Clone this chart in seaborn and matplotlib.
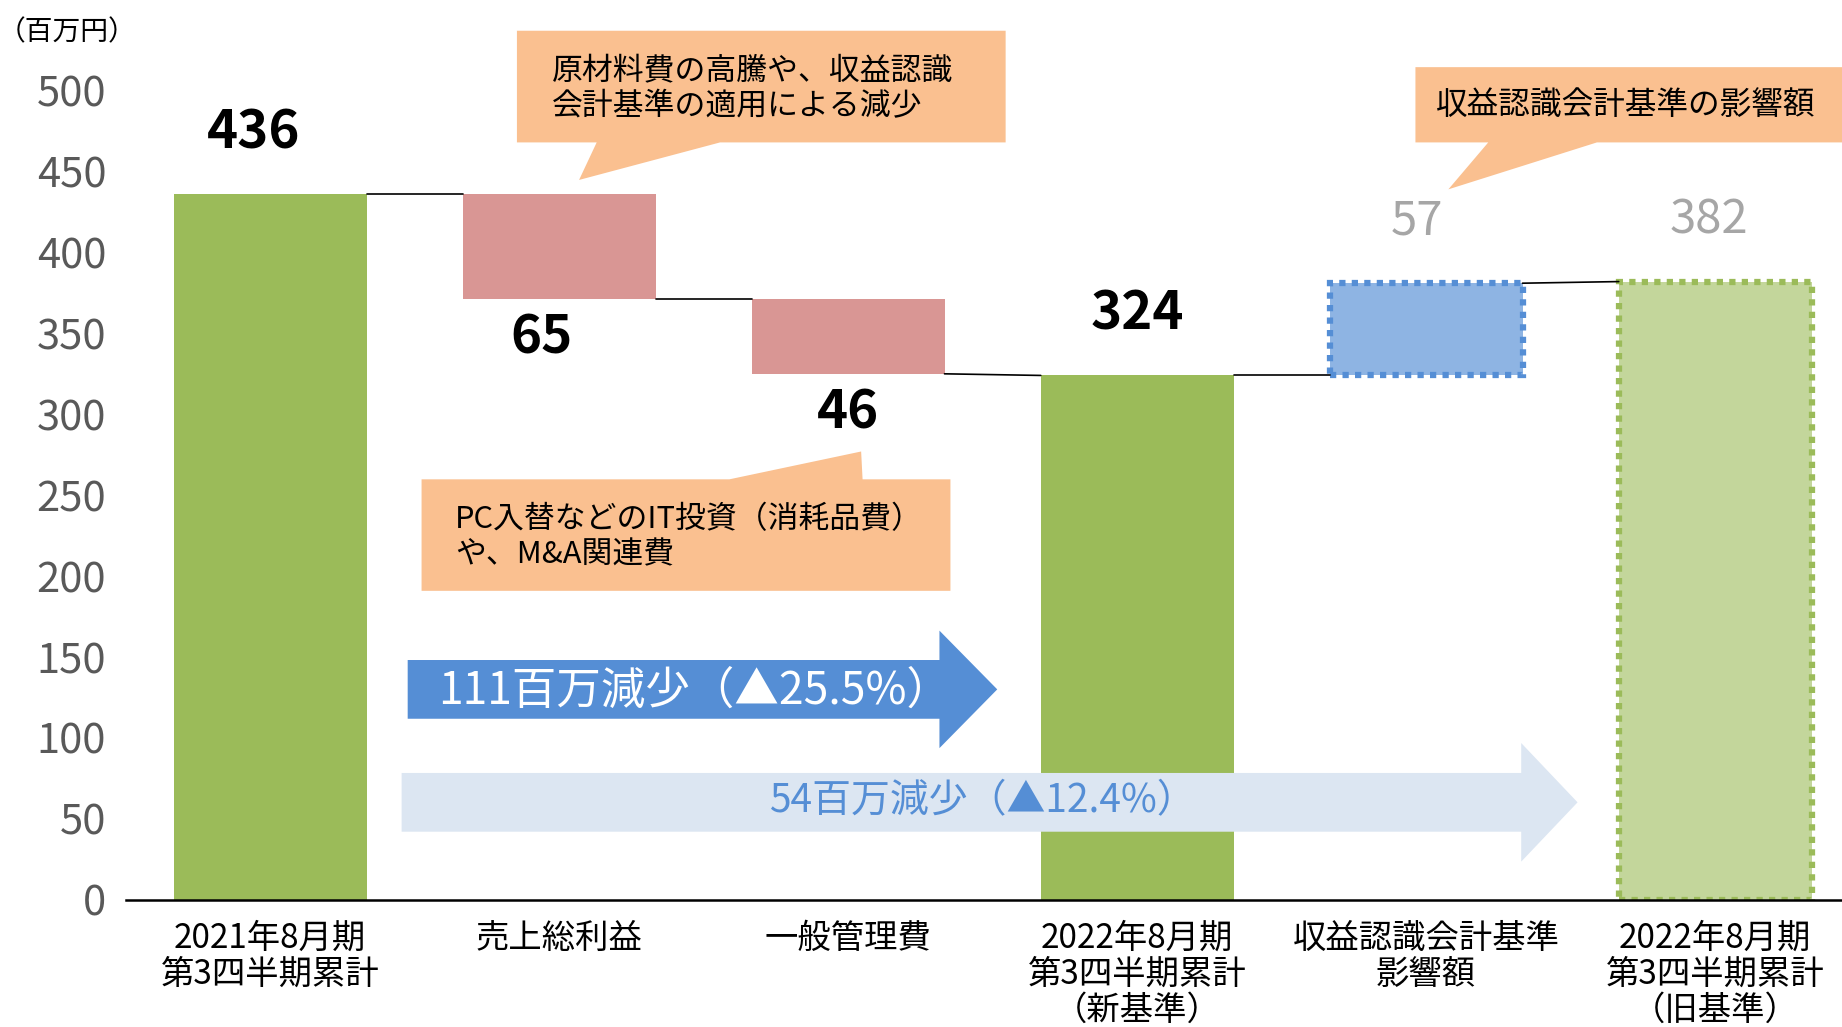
import matplotlib
matplotlib.use("Agg")
import matplotlib.pyplot as plt
from matplotlib.patches import Polygon, FancyArrow
import seaborn as sns
import pandas as pd

# データ
categories = ['2021年8月期\n第3四半期累計', '売上総利益', '一般管理費',
              '2022年8月期\n第3四半期累計\n（新基準）', '収益認識会計基準\n影響額',
              '2022年8月期\n第3四半期累計\n（旧基準）']
values = [436, -65, -46, 324, 57, 382]
kinds = ['total', 'delta', 'delta', 'total', 'delta', 'total']
labels = ['436', '65', '46', '324', '57', '382']
face_colors = ['#9BBB59', '#D99694', '#D99694', '#9BBB59', '#8EB4E3', '#C3D69B']
edge_colors = [None, None, None, None, '#558ED5', '#9BBB59']
label_colors = ['black', 'black', 'black', 'black', '#A6A6A6', '#A6A6A6']

# 積み上げ位置の計算
bottoms, heights, start_levels, end_levels = [], [], [], []
level = 0
for v, k in zip(values, kinds):
    if k == 'total':
        bottoms.append(0)
        heights.append(v)
        start_levels.append(v)
        level = v
    else:
        start_levels.append(level)
        bottoms.append(min(level, level + v))
        heights.append(abs(v))
        level = level + v
    end_levels.append(level)

df = pd.DataFrame({'項目': categories, '高さ': heights})

sns.set_theme(style='white')
plt.rcParams['font.family'] = ['Noto Sans CJK JP', 'DejaVu Sans']

fig = plt.figure(figsize=(18.42, 10.27), dpi=100)
ax = fig.add_axes([0.0682, 0.1239, 0.9318, 0.8761])

bar_w = 0.667
sns.barplot(data=df, x='項目', y='高さ', order=categories, width=bar_w, ax=ax, zorder=2)

for p, b, fc, ec in zip(ax.patches, bottoms, face_colors, edge_colors):
    p.set_y(b)
    p.set_facecolor(fc)
    if ec is None:
        p.set_edgecolor(fc)
        p.set_linewidth(0)
    else:
        p.set_edgecolor(ec)
        p.set_linewidth(4.5)
        p.set_linestyle((0, (1, 1)))
        p.set_capstyle('butt')

# つなぎ線
for i in range(len(values) - 1):
    ax.plot([i + bar_w / 2, i + 1 - bar_w / 2], [end_levels[i], start_levels[i + 1]],
            color='black', lw=1.2, zorder=2)

# データラベル
label_dx = [-0.057, -0.06, 0.0, 0.0, -0.03, -0.02]
for i, (lab, k, v) in enumerate(zip(labels, kinds, values)):
    top = bottoms[i] + heights[i]
    if k == 'delta' and v < 0:
        y = bottoms[i] - 24
    else:
        y = top + 38
    bold = label_colors[i] == 'black'
    ax.text(i + label_dx[i], y, lab, ha='center', va='center', fontsize=38 if bold else 34,
            fontweight='bold' if bold else 'normal', color=label_colors[i], zorder=5)

ax.set_xlim(-0.5, 5.439)
ax.set_ylim(0, 556)
ax.set_yticks(range(0, 501, 50))
ax.tick_params(axis='y', labelsize=30, labelcolor='#595959', length=0, pad=14)
ax.tick_params(axis='x', labelsize=24, labelcolor='black', length=0, pad=15)
ax.set_xlabel('')
ax.set_ylabel('')
for t in ax.get_xticklabels():
    t.set_multialignment('center')
    t.set_linespacing(1.04)
sns.despine(ax=ax, left=True)
ax.spines['bottom'].set_color('black')
ax.spines['bottom'].set_linewidth(1.8)
ax.spines['top'].set_visible(False)
ax.spines['right'].set_visible(False)

ax.text(-0.703, 536, '（百万円）', ha='center', va='center', fontsize=20, color='black', clip_on=False)

# 吹き出し
orange = '#FAC090'
box1 = [(0.854, 537), (2.545, 537), (2.545, 468), (1.557, 468), (1.069, 444.8), (1.130, 468), (0.854, 468)]
box2 = [(0.524, 259.8), (1.589, 259.8), (2.045, 277), (2.05, 259.8), (2.354, 259.8), (2.354, 190.9), (0.524, 190.9)]
box3 = [(3.963, 514.5), (5.6, 514.5), (5.6, 468), (4.591, 468), (4.077, 439), (4.215, 468), (3.963, 468)]
for pts in (box1, box2, box3):
    ax.add_patch(Polygon(pts, closed=True, facecolor=orange, edgecolor='none', zorder=4, clip_on=False))

ax.text(0.976, 501, '原材料費の高騰や、収益認識\n会計基準の適用による減少', ha='left', va='center',
        fontsize=22.2, color='black', linespacing=1.15, zorder=5)
ax.text(0.641, 224, 'PC入替などのIT投資（消耗品費）\nや、M&A関連費', ha='left', va='center',
        fontsize=22.2, color='black', linespacing=1.15, zorder=5)
ax.text(4.035, 491, '収益認識会計基準の影響額', ha='left', va='center',
        fontsize=22.8, color='black', zorder=5)

# 矢印
ax.add_patch(FancyArrow(0.476, 130, 2.04, 0, width=36.3, head_width=72.6, head_length=0.2,
                        length_includes_head=True, color='#558ED5', lw=0, zorder=4))
ax.add_patch(FancyArrow(0.455, 60.2, 4.069, 0, width=36.3, head_width=73.3, head_length=0.195,
                        length_includes_head=True, color='#DCE6F2', lw=0, zorder=4))
ax.text(1.47, 129, '111百万減少（▲25.5%）', ha='center', va='center', fontsize=32,
        color='white', zorder=5)
ax.text(2.463, 61, '54百万減少（▲12.4%）', ha='center', va='center', fontsize=28,
        color='#558ED5', zorder=5)

fig.savefig('out.png', dpi=100)
